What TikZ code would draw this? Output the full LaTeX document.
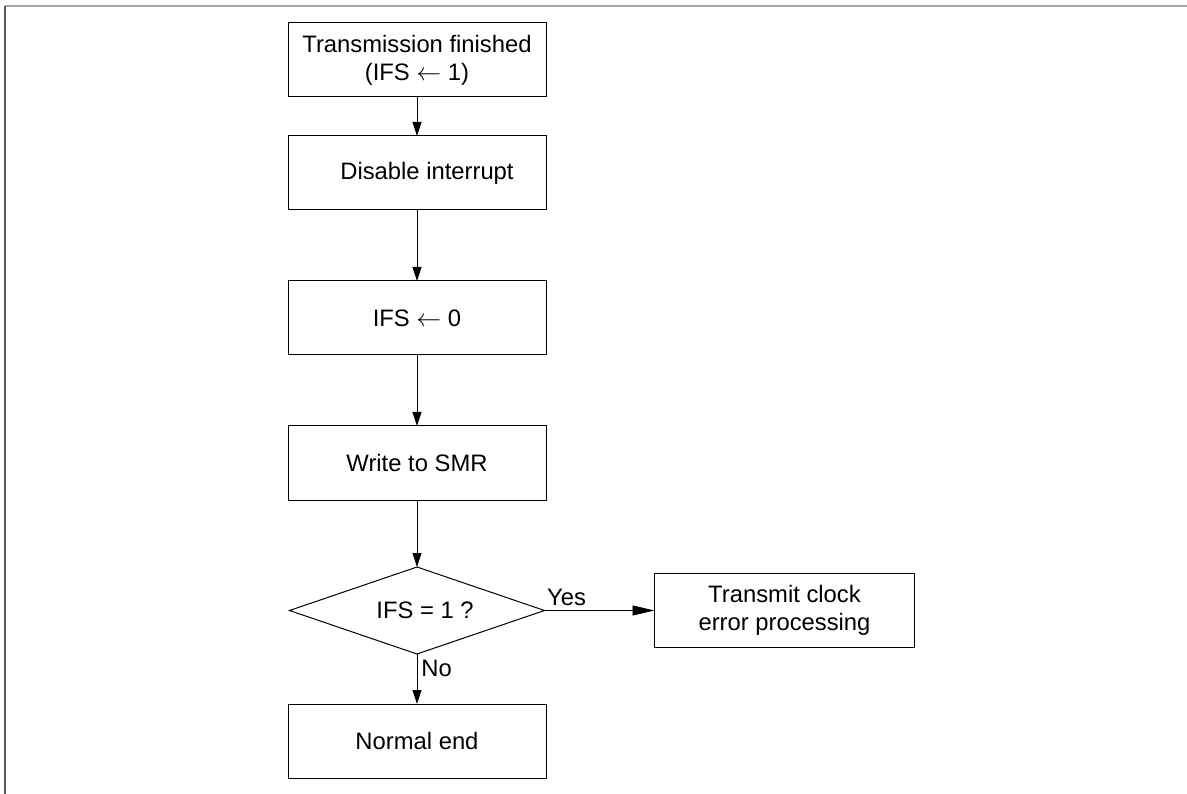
\documentclass[tikz,border=0pt]{standalone}
\usepackage{fontspec}
\setmainfont{Liberation Sans}
\usetikzlibrary{positioning, arrows.meta, shapes.geometric}

\begin{document}
\begin{tikzpicture}[x=1pt, y=-1pt,
  box/.style={draw, line width=1pt, minimum width=258pt, minimum height=74pt, align=center, inner sep=0pt, outer sep=0pt, font=\fontsize{23.8}{28}\selectfont},
  decide/.style={diamond, draw, line width=1pt, minimum width=255pt, minimum height=87pt, aspect=2.9, inner sep=0pt, outer sep=0pt, font=\fontsize{23.8}{28}\selectfont},
  lbl/.style={font=\fontsize{23.8}{28}\selectfont, inner sep=4pt},
  arr/.style={line width=0.9pt, -{Triangle[length=14pt, width=9pt]}},
  harr/.style={line width=0.9pt, -{Triangle[length=22pt, width=10pt]}}]
\useasboundingbox (0,0) rectangle (1187,794);
% frame lines
\draw[black!35, line width=2pt] (5,6) -- (1187,6);
\draw[black!65, line width=1.6pt] (5,6) -- (5,794);
% flow
\node[box] (start) at (417,60) {Transmission finished\\ (IFS $\leftarrow$ 1)};
\node[box, below=39pt of start] (disable) {\hspace*{20pt}Disable interrupt};
\node[box, below=71pt of disable] (clear) {IFS $\leftarrow$ 0};
\node[box, below=71pt of clear] (write) {Write to SMR};
\node[decide, below=67pt of write] (check) {\hspace*{16pt}IFS = 1 ?};
\node[box, below=50pt of check] (done) {Normal end};
\node[box, minimum width=260pt, right=110pt of check] (err) {Transmit clock\\ error processing};
\draw[arr] (start) -- (disable);
\draw[arr] (disable) -- (clear);
\draw[arr] (clear) -- (write);
\draw[arr] (write) -- (check);
\draw[arr] (check) -- node[lbl, right, pos=0.29] {No} (done);
\draw[harr] (check) -- node[lbl, above, pos=0.2] {Yes} (err);
\end{tikzpicture}
\end{document}
